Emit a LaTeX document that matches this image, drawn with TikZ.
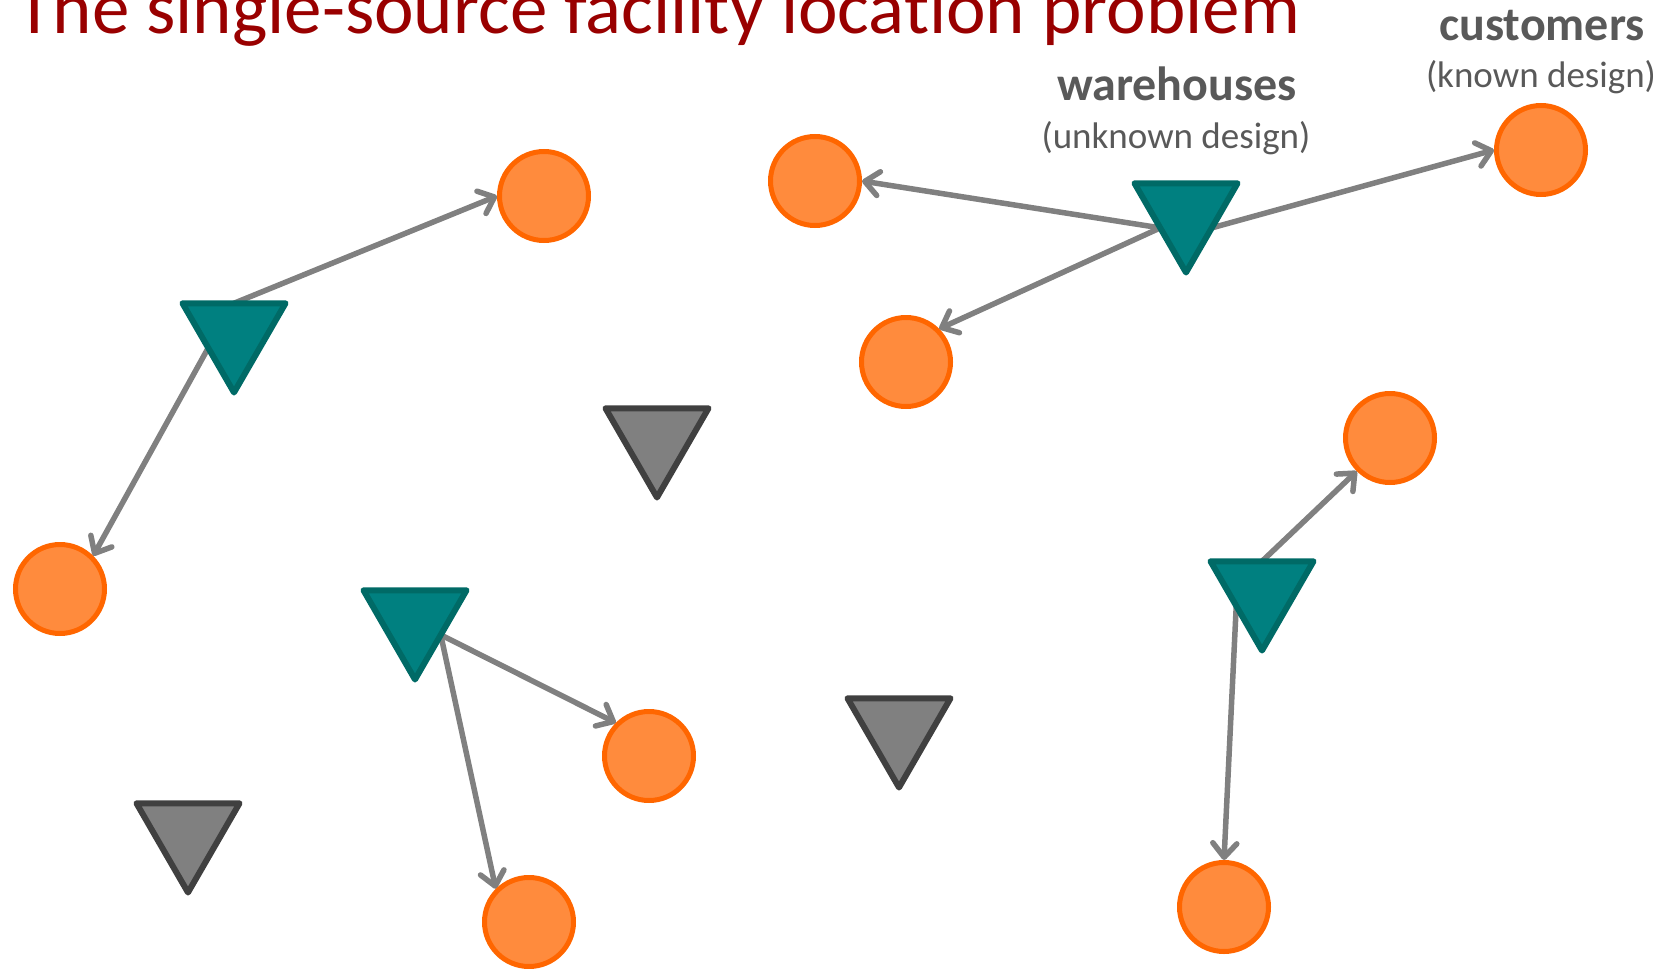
\documentclass[tikz,border=0pt]{standalone}
\usepackage{fontspec}
\setmainfont{Carlito}[Ligatures={NoCommon,NoContextual}]
\usetikzlibrary{shapes.geometric,arrows.meta,calc}

\definecolor{titlered}{HTML}{990000}
\definecolor{labelgray}{HTML}{595959}
\definecolor{tealfill}{HTML}{008080}
\definecolor{tealedge}{HTML}{006A66}
\definecolor{closedfill}{HTML}{808080}
\definecolor{closededge}{HTML}{404040}
\definecolor{custfill}{HTML}{FF8B3D}
\definecolor{custedge}{HTML}{FF6600}
\definecolor{linkgray}{HTML}{808080}

\pgfdeclarelayer{links}
\pgfsetlayers{links,main}

\tikzset{
  customer/.style={circle, draw=custedge, fill=custfill, line width=5pt,
    minimum size=89pt, inner sep=0pt},
  warehouse/.style={regular polygon, regular polygon sides=3,
    shape border rotate=180, minimum size=119pt, inner sep=0pt,
    line width=6pt, line join=round},
  openwh/.style={warehouse, fill=tealfill, draw=tealedge},
  closedwh/.style={warehouse, fill=closedfill, draw=closededge},
  link/.style={draw=linkgray, line width=5.5pt, line cap=round,
    -{Straight Barb[length=14pt, width=24pt, round]}},
  heading/.style={font=\fontsize{48}{52}\selectfont\bfseries, text=labelgray,
    anchor=base, inner sep=0pt},
  subheading/.style={font=\fontsize{37}{42}\selectfont, text=labelgray,
    anchor=base, inner sep=0pt}
}

% side midpoints of a downward triangle (circumradius 59.5)
\newcommand{\topmid}[1]{($(#1)+(0,-29.75)$)}
\newcommand{\leftmid}[1]{($(#1)+(-25.76,14.88)$)}
\newcommand{\rightmid}[1]{($(#1)+(25.76,14.88)$)}

\begin{document}
\begin{tikzpicture}[x=1pt, y=-1pt]
  \useasboundingbox (0,0) rectangle (1671,969);

  % title
  \node[anchor=base west, inner sep=0pt, text=titlered,
        font=\fontsize{75}{80}\selectfont] (title) at (16,34)
        {The single-source facility location problem};

  % legend labels
  \node[heading] (whlabel) at (1177,100) {warehouses};
  \node[subheading] (whsub) at (1176,148) {(unknown design)};
  \node[heading] (custlabel) at (1542,40) {customers};
  \node[subheading] (custsub) at (1541,87) {(known design)};

  % customers
  \node[customer] (c1) at (544,196) {};
  \node[customer] (c2) at (815,181) {};
  \node[customer] (c3) at (1541,150) {};
  \node[customer] (c4) at (906,362) {};
  \node[customer] (c5) at (1390,438) {};
  \node[customer] (c6) at (60,589) {};
  \node[customer] (c7) at (649,756) {};
  \node[customer] (c8) at (529,922) {};
  \node[customer] (c9) at (1224,907) {};

  % warehouses: open (teal) and closed (gray)
  \node[openwh] (w1) at (234,333) {};
  \node[openwh] (w2) at (1186,213) {};
  \node[closedwh] (w3) at (657,438) {};
  \node[openwh] (w4) at (415,620) {};
  \node[openwh] (w5) at (1262,591) {};
  \node[closedwh] (w6) at (899,728) {};
  \node[closedwh] (w7) at (188,833) {};

  % assignments
  \begin{pgfonlayer}{links}
    \draw[link] \topmid{w1} -- (c1.west);
    \draw[link] \leftmid{w1} -- (c6.north east);
    \draw[link] \leftmid{w2} -- (c2.east);
    \draw[link] \leftmid{w2} -- (c4.north east);
    \draw[link] \rightmid{w2} -- (c3.west);
    \draw[link] \rightmid{w4} -- (c7.north west);
    \draw[link] \rightmid{w4} -- (c8.north west);
    \draw[link] \topmid{w5} -- (c5.south west);
    \draw[link] \leftmid{w5} -- (c9.north);
  \end{pgfonlayer}
\end{tikzpicture}
\end{document}
